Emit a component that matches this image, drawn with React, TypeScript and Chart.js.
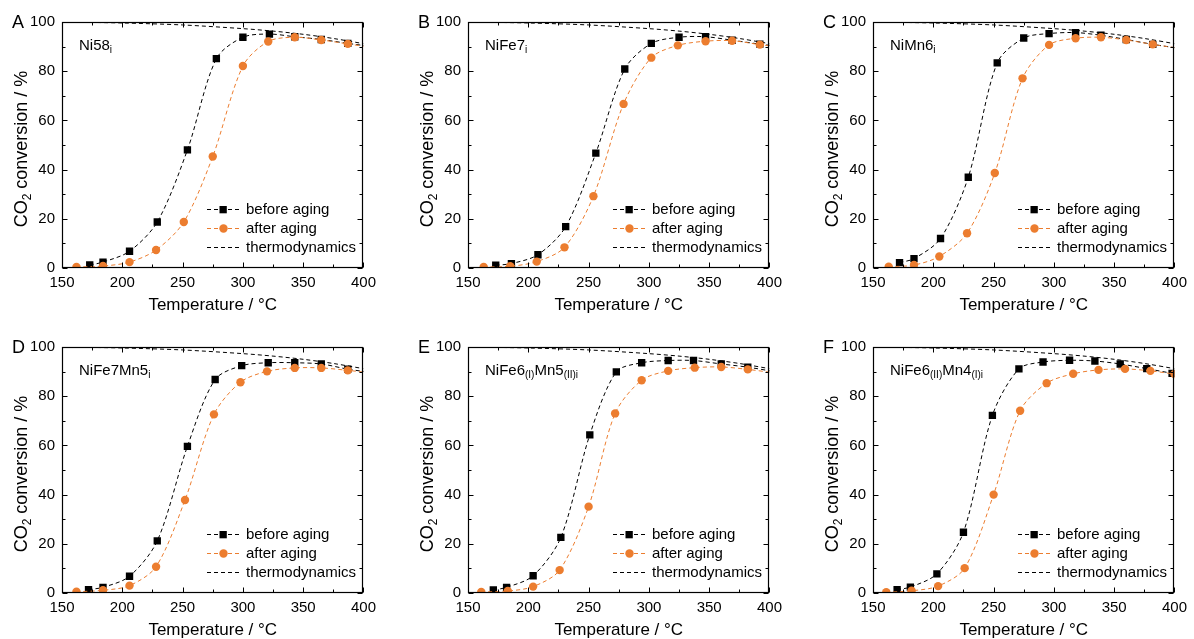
import React, { useEffect, useRef } from "react";
import { Chart, registerables } from "chart.js";

Chart.register(...registerables);

const FONT = '"Liberation Sans", Arial, Helvetica, sans-serif';
const ORANGE = "#EC7D2F";
const BLACK = "#000000";

const xTicks = [150, 200, 250, 300, 350, 400];
const xMinorTicks = [175, 225, 275, 325, 375];
const yTicks = [0, 20, 40, 60, 80, 100];
const yMinorTicks = [10, 30, 50, 70, 90];

const legendLabels = ["before aging", "after aging", "thermodynamics"];
const xTitle = "Temperature / °C";

// thermodynamic equilibrium conversion
const thermoT = [150, 200, 250, 300, 325, 350, 375, 400];
const thermoX = [100, 99.6, 98.8, 97.3, 96.3, 95.0, 93.3, 91.2];

// Panel A  Ni58i
const aBeforeT = [173, 184, 206, 229, 254, 278, 300, 322, 343, 365, 387, 409];
const aBeforeX = [1.2, 2.4, 6.8, 18.7, 48.0, 85.1, 93.8, 95.1, 94.0, 92.9, 91.3, 89.9];
const aAfterT = [162, 184, 206, 228, 251, 275, 300, 321, 343, 365, 387, 409];
const aAfterX = [0.4, 0.8, 2.4, 7.3, 18.7, 45.3, 82.1, 92.1, 93.8, 92.7, 91.1, 89.5];

// Panel B  NiFe7i
const bBeforeT = [173, 186, 208, 231, 256, 280, 302, 325, 347, 369, 392, 414];
const bBeforeX = [1.1, 1.8, 5.4, 16.8, 46.7, 80.9, 91.3, 93.8, 94.0, 92.6, 91.0, 89.8];
const bAfterT = [163, 185, 207, 230, 254, 279, 302, 324, 347, 369, 392, 414];
const bAfterX = [0.4, 0.7, 2.6, 8.4, 29.2, 66.7, 85.5, 90.5, 92.2, 92.4, 90.8, 89.5];

// Panel C  NiMn6i
const cBeforeT = [172, 184, 206, 229, 253, 275, 296, 318, 339, 360, 382, 404];
const cBeforeX = [2.2, 3.8, 12.0, 36.9, 83.4, 93.5, 95.3, 95.7, 94.6, 92.9, 90.9, 89.3];
const cAfterT = [163, 184, 205, 228, 251, 274, 296, 318, 339, 360, 382, 404];
const cAfterX = [0.5, 1.2, 4.7, 14.1, 38.6, 77.1, 90.7, 93.4, 93.8, 92.7, 90.9, 89.3];

// Panel D  NiFe7Mn5i
const dBeforeT = [172, 184, 206, 229, 254, 277, 299, 321, 343, 365, 387, 409];
const dBeforeX = [1.4, 2.3, 6.8, 21.2, 59.6, 86.8, 92.4, 93.6, 93.6, 93.1, 91.0, 89.5];
const dAfterT = [162, 184, 206, 228, 252, 276, 298, 320, 343, 365, 387, 409];
const dAfterX = [0.5, 1.1, 3.0, 10.7, 37.8, 72.6, 85.7, 90.1, 91.5, 91.5, 90.5, 89.3];

// Panel E  NiFe6(I)Mn5(II)i
const eBeforeT = [171, 182, 204, 227, 251, 273, 294, 316, 337, 360, 382, 404];
const eBeforeX = [1.2, 2.3, 7.0, 22.6, 64.3, 89.9, 93.6, 94.5, 94.5, 93.1, 91.8, 90.0];
const eAfterT = [161, 183, 204, 226, 250, 272, 294, 316, 338, 360, 382, 404];
const eAfterX = [0.4, 0.8, 2.6, 9.3, 35.1, 73.0, 86.5, 90.3, 91.6, 91.9, 90.9, 89.5];

// Panel F  NiFe6(II)Mn4(I)i
const fBeforeT = [170, 181, 203, 225, 249, 271, 291, 313, 334, 355, 377, 398];
const fBeforeX = [1.4, 2.4, 7.8, 24.7, 72.2, 91.1, 93.9, 94.6, 94.3, 93.1, 91.2, 89.3];
const fAfterT = [161, 182, 204, 226, 250, 272, 294, 316, 337, 359, 380, 400];
const fAfterX = [0.3, 0.9, 2.8, 10.1, 40.0, 74.1, 85.3, 89.1, 90.7, 91.1, 90.3, 89.0];

type Part = [string, boolean];
interface PanelSpec {
  letter: string;
  label: Part[];
  beforeT: number[];
  beforeX: number[];
  afterT: number[];
  afterX: number[];
}

const panels: PanelSpec[] = [
  { letter: "A", label: [["Ni58", false], ["i", true]], beforeT: aBeforeT, beforeX: aBeforeX, afterT: aAfterT, afterX: aAfterX },
  { letter: "B", label: [["NiFe7", false], ["i", true]], beforeT: bBeforeT, beforeX: bBeforeX, afterT: bAfterT, afterX: bAfterX },
  { letter: "C", label: [["NiMn6", false], ["i", true]], beforeT: cBeforeT, beforeX: cBeforeX, afterT: cAfterT, afterX: cAfterX },
  { letter: "D", label: [["NiFe7Mn5", false], ["i", true]], beforeT: dBeforeT, beforeX: dBeforeX, afterT: dAfterT, afterX: dAfterX },
  { letter: "E", label: [["NiFe6", false], ["(I)", true], ["Mn5", false], ["(II)i", true]], beforeT: eBeforeT, beforeX: eBeforeX, afterT: eAfterT, afterX: eAfterX },
  { letter: "F", label: [["NiFe6", false], ["(II)", true], ["Mn4", false], ["(I)i", true]], beforeT: fBeforeT, beforeX: fBeforeX, afterT: fAfterT, afterX: fAfterX },
];

const W = 383;
const H = 314;
const colLeft = [0, 406, 811];
const rowTop = [0, 325];

const zip = (xs: number[], ys: number[]) => xs.map((x, i) => ({ x, y: ys[i] }));

function decoPlugin(p: PanelSpec) {
  return {
    id: "deco",
    afterDraw(chart: any) {
      const { ctx, chartArea: ca, scales } = chart;
      const xs = scales.x;
      const ys = scales.y;
      ctx.save();
      ctx.strokeStyle = BLACK;
      ctx.fillStyle = BLACK;
      ctx.lineWidth = 1;
      ctx.setLineDash([]);
      const L = Math.round(ca.left) + 0.5;
      const R = Math.round(ca.right) - 0.5;
      const T = Math.round(ca.top) + 0.5;
      const B = Math.round(ca.bottom) - 0.5;
      ctx.lineWidth = 1.2;
      ctx.strokeRect(L, T, R - L, B - T);
      ctx.lineWidth = 1;
      const seg = (x1: number, y1: number, x2: number, y2: number) => {
        ctx.beginPath();
        ctx.moveTo(x1, y1);
        ctx.lineTo(x2, y2);
        ctx.stroke();
      };
      const xt = (v: number, len: number) => {
        const px = Math.round(xs.getPixelForValue(v)) + 0.5;
        seg(px, B, px, B - len);
        seg(px, T, px, T + len);
      };
      const yt = (v: number, len: number) => {
        const py = Math.round(ys.getPixelForValue(v)) + 0.5;
        seg(L, py, L + len, py);
        seg(R, py, R - len, py);
      };
      xTicks.forEach((v) => xt(v, 5));
      xMinorTicks.forEach((v) => xt(v, 3));
      yTicks.forEach((v) => yt(v, 5));
      yMinorTicks.forEach((v) => yt(v, 3));

      // panel letter
      ctx.font = `18px ${FONT}`;
      ctx.textAlign = "left";
      ctx.textBaseline = "middle";
      ctx.fillText(p.letter, 12, ca.top + 1);

      // sample label with subscripts
      let lx = ca.left + 17;
      const lb = ca.top + 28;
      ctx.textBaseline = "alphabetic";
      p.label.forEach(([txt, sub]) => {
        if (sub) {
          ctx.font = `10px ${FONT}`;
          ctx.fillText(txt, lx, lb + 3);
        } else {
          ctx.font = `15px ${FONT}`;
          ctx.fillText(txt, lx, lb);
        }
        lx += ctx.measureText(txt).width;
      });

      // legend
      const x0 = ca.left + 145;
      const x1 = ca.left + 178;
      const xm = ca.left + 161;
      const xtxt = ca.left + 184;
      const rows = [ca.top + 187, ca.top + 206, ca.top + 225];
      ctx.lineWidth = 1;
      ctx.setLineDash([4, 3]);
      ctx.strokeStyle = BLACK;
      seg(x0, rows[0] + 0.5, x1, rows[0] + 0.5);
      ctx.strokeStyle = ORANGE;
      seg(x0, rows[1] + 0.5, x1, rows[1] + 0.5);
      ctx.strokeStyle = BLACK;
      seg(x0, rows[2] + 0.5, x1, rows[2] + 0.5);
      ctx.setLineDash([]);
      ctx.fillStyle = BLACK;
      ctx.fillRect(xm - 3.5, rows[0] - 3, 7.3, 7.3);
      ctx.fillStyle = ORANGE;
      ctx.beginPath();
      ctx.arc(xm + 0.5, rows[1] + 0.5, 4.2, 0, Math.PI * 2);
      ctx.fill();
      ctx.fillStyle = BLACK;
      ctx.font = `15px ${FONT}`;
      ctx.textBaseline = "middle";
      legendLabels.forEach((t, i) => ctx.fillText(t, xtxt, rows[i] + 1));

      // y title with subscript
      const cy = (ca.top + ca.bottom) / 2 + 4;
      ctx.save();
      ctx.translate(27, cy);
      ctx.rotate(-Math.PI / 2);
      ctx.textBaseline = "alphabetic";
      const big = `18px ${FONT}`;
      const small = `12px ${FONT}`;
      ctx.font = big;
      const w1 = ctx.measureText("CO").width;
      const w3 = ctx.measureText(" conversion / %").width;
      ctx.font = small;
      const w2 = ctx.measureText("2").width;
      let tx = -(w1 + w2 + w3) / 2;
      ctx.font = big;
      ctx.fillText("CO", tx, 0);
      tx += w1;
      ctx.font = small;
      ctx.fillText("2", tx, 4);
      tx += w2;
      ctx.font = big;
      ctx.fillText(" conversion / %", tx, 0);
      ctx.restore();

      ctx.restore();
    },
  };
}

const lineBase = {
  borderWidth: 1,
  borderDash: [4, 3],
  tension: 0.3,
  fill: false,
};

function makeConfig(p: PanelSpec): any {
  return {
    type: "line",
    data: {
      datasets: [
        {
          ...lineBase,
          label: legendLabels[0],
          data: zip(p.beforeT, p.beforeX),
          borderColor: BLACK,
          backgroundColor: BLACK,
          pointStyle: "rect",
          pointRadius: 5.2,
          pointBorderWidth: 0,
          pointBackgroundColor: BLACK,
          order: 2,
        },
        {
          ...lineBase,
          label: legendLabels[1],
          data: zip(p.afterT, p.afterX),
          borderColor: ORANGE,
          backgroundColor: ORANGE,
          pointStyle: "circle",
          pointRadius: 4.2,
          pointBorderWidth: 0,
          pointBackgroundColor: ORANGE,
          order: 1,
        },
        {
          ...lineBase,
          label: legendLabels[2],
          data: zip(thermoT, thermoX),
          borderColor: BLACK,
          pointRadius: 0,
          order: 3,
        },
      ],
    },
    options: {
      responsive: false,
      animation: false,
      events: [],
      layout: { padding: { left: 0, top: 22, right: 13, bottom: 0 } },
      plugins: { legend: { display: false }, tooltip: { enabled: false } },
      scales: {
        x: {
          type: "linear",
          min: 150,
          max: 400,
          afterBuildTicks: (s: any) => {
            s.ticks = xTicks.map((v) => ({ value: v }));
          },
          afterFit: (s: any) => {
            s.height = 46;
          },
          ticks: {
            font: { family: FONT, size: 15, lineHeight: 1 },
            color: BLACK,
            padding: 7,
            maxRotation: 0,
            autoSkip: false,
          },
          grid: { display: false, drawTicks: false },
          border: { display: false },
          title: {
            display: true,
            text: xTitle,
            color: BLACK,
            font: { family: FONT, size: 17, lineHeight: 1 },
            padding: 0,
          },
        },
        y: {
          type: "linear",
          min: 0,
          max: 100,
          afterBuildTicks: (s: any) => {
            s.ticks = yTicks.map((v) => ({ value: v }));
          },
          afterFit: (s: any) => {
            s.width = 62;
          },
          ticks: {
            font: { family: FONT, size: 15, lineHeight: 1 },
            color: BLACK,
            padding: 7,
            autoSkip: false,
          },
          grid: { display: false, drawTicks: false },
          border: { display: false },
          title: { display: false },
        },
      },
    },
    plugins: [decoPlugin(p)],
  };
}

function Panel({ p, left, top }: { p: PanelSpec; left: number; top: number }) {
  const ref = useRef<HTMLCanvasElement>(null);
  useEffect(() => {
    const chart = new Chart(ref.current as HTMLCanvasElement, makeConfig(p));
    return () => chart.destroy();
  }, [p]);
  return (
    <div style={{ position: "absolute", left, top, width: W, height: H }}>
      <canvas ref={ref} width={W} height={H} style={{ width: W, height: H, display: "block" }} />
    </div>
  );
}

export default function App() {
  return (
    <div
      style={{
        position: "absolute",
        left: 0,
        top: 0,
        width: 1194,
        height: 639,
        background: "#ffffff",
        overflow: "hidden",
      }}
    >
      {panels.map((p, i) => (
        <Panel key={p.letter} p={p} left={colLeft[i % 3]} top={rowTop[Math.floor(i / 3)]} />
      ))}
    </div>
  );
}
